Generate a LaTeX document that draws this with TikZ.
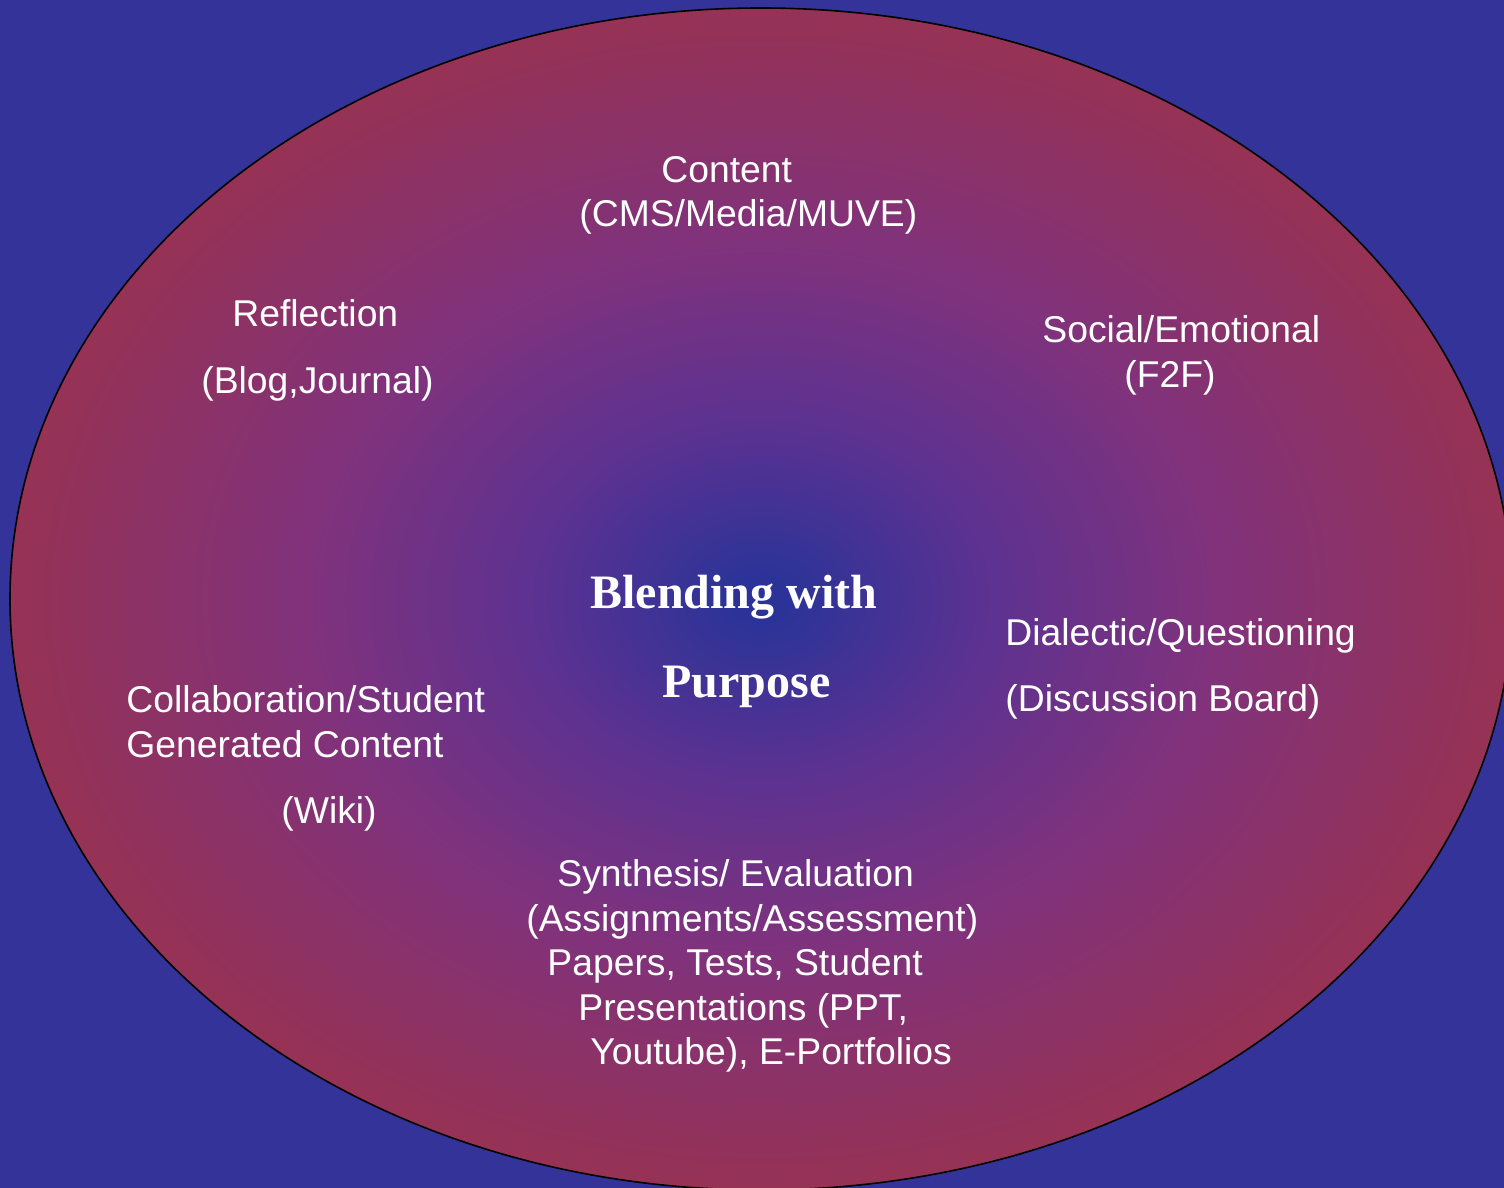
\documentclass[tikz,border=0pt]{standalone}
\usepackage{fontspec}
\setmainfont{Liberation Sans}
\newfontfamily\serifbold{Liberation Serif}
\definecolor{bgblue}{RGB}{51,51,153}
\definecolor{cA}{RGB}{44,51,152}
\definecolor{cB}{RGB}{92,50,145}
\definecolor{cC}{RGB}{128,50,124}
\definecolor{cD}{RGB}{150,50,84}
\pgfdeclareradialshading{blendshade}{\pgfpoint{0bp}{0bp}}{color(0bp)=(cA); color(1bp)=(cA); color(7.5bp)=(cB); color(15bp)=(cC); color(25bp)=(cD); color(50bp)=(cD)}
\tikzset{
  lbl/.style={anchor=base west, inner sep=0pt, text=white, font=\fontsize{18.65}{22}\selectfont},
  ttl/.style={anchor=base west, inner sep=0pt, text=white, font=\serifbold\bfseries\fontsize{24}{28}\selectfont},
}
\begin{document}
\begin{tikzpicture}[x=0.5pt,y=-0.5pt]
\useasboundingbox (0,0) rectangle (1504,1188);
\fill[bgblue] (0,0) rectangle (1504,1188);
\begin{scope}
\clip (0,0) rectangle (1504,1188);
\shade[shading=blendshade] (761,599) ellipse [x radius=751, y radius=591];
\draw[black, line width=0.8pt] (761,599) ellipse [x radius=751, y radius=591];
\end{scope}
% Content
\node[lbl] (c1) at (661,182) {Content};
\node[lbl] (c2) at (579,226) {(CMS/Media/MUVE)};
% Reflection
\node[lbl] (r1) at (232,326) {Reflection};
\node[lbl] (r2) at (201,393) {(Blog,Journal)};
% Social
\node[lbl] (s1) at (1042,342) {Social/Emotional};
\node[lbl] (s2) at (1124,387) {(F2F)};
% Centre
\node[ttl] (b1) at (590,608) {Blending with};
\node[ttl] (b2) at (662,697) {Purpose};
% Dialectic
\node[lbl] (d1) at (1005,645) {Dialectic/Questioning};
\node[lbl] (d2) at (1005,711) {(Discussion Board)};
% Collaboration
\node[lbl] (k1) at (126,712) {Collaboration/Student};
\node[lbl] (k2) at (126,757) {Generated Content};
\node[lbl] (k3) at (281,823) {(Wiki)};
% Synthesis
\node[lbl] (y1) at (557,886) {Synthesis/ Evaluation};
\node[lbl] (y2) at (526,931) {(Assignments/Assessment)};
\node[lbl] (y3) at (547,975) {Papers, Tests, Student};
\node[lbl] (y4) at (578,1020) {Presentations (PPT,};
\node[lbl] (y5) at (590,1064) {Youtube), E-Portfolios};
\end{tikzpicture}
\end{document}
